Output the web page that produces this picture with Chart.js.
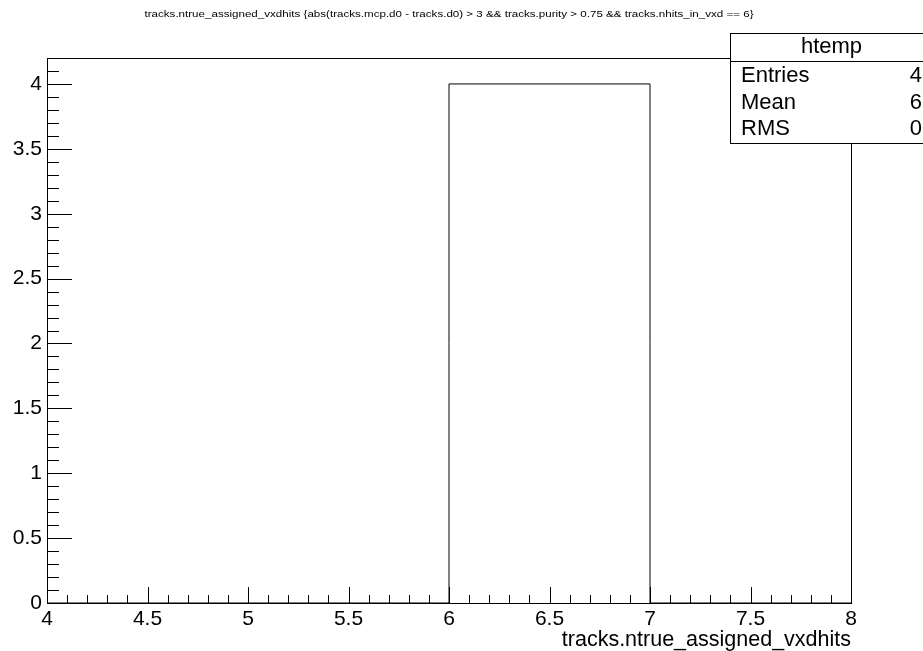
<!DOCTYPE html>
<html>
<head>
<meta charset="utf-8">
<script src="https://cdn.jsdelivr.net/npm/chart.js@4"></script>
<style>
  html, body { margin: 0; padding: 0; background: #fff; }
  #wrap { width: 923px; height: 651px; }
</style>
</head>
<body>
<div id="wrap"><canvas id="histChart" width="923" height="651"></canvas></div>
<script>
// histogram data (htemp)
var binEdges = [4, 5, 6, 7, 8];
var binCounts = [0, 0, 4, 0];
var xTickValues = [4, 4.5, 5, 5.5, 6, 6.5, 7, 7.5, 8];
var yTickValues = [0, 0.5, 1, 1.5, 2, 2.5, 3, 3.5, 4];
var statNames = ['Entries', 'Mean', 'RMS'];
var statValues = ['4', '6', '0'];
var histName = 'htemp';
var plotTitle = 'tracks.ntrue_assigned_vxdhits {abs(tracks.mcp.d0 - tracks.d0) > 3 && tracks.purity > 0.75 && tracks.nhits_in_vxd == 6}';
var xTitle = 'tracks.ntrue_assigned_vxdhits';

var FONT = '"Liberation Sans", Arial, sans-serif';

var points = binEdges.map(function (e, i) {
    return { x: e, y: i < binCounts.length ? binCounts[i] : 0 };
});

// frame, inward ticks, title and stats box (ROOT style)
var rootStyle = {
    id: 'rootStyle',
    afterDraw: function (chart) {
        var c = chart.ctx;
        var a = chart.chartArea;
        var xs = chart.scales.x;
        var ys = chart.scales.y;
        c.save();
        c.strokeStyle = '#000';
        c.lineWidth = 1;
        c.strokeRect(Math.round(a.left) + 0.5, Math.round(a.top) + 0.5,
            Math.round(a.right - a.left), Math.round(a.bottom - a.top));

        c.beginPath();
        var v, px, len;
        for (var i = 0; i <= 40; i++) {
            v = 4 + i * 0.1;
            px = Math.round(xs.getPixelForValue(v)) + 0.5;
            len = (i % 5 === 0) ? 16 : 8;
            c.moveTo(px, a.bottom);
            c.lineTo(px, a.bottom - len);
        }
        for (var j = 0; j <= 41; j++) {
            v = j * 0.1;
            px = Math.round(ys.getPixelForValue(v)) + 0.5;
            if (px < a.top + 2) continue;
            len = (j % 5 === 0) ? 25 : 12;
            c.moveTo(a.left, px);
            c.lineTo(a.left + len, px);
        }
        c.stroke();

        // title, squeezed to the reference width
        c.fillStyle = '#000';
        c.font = '9.5px ' + FONT;
        c.textAlign = 'center';
        c.textBaseline = 'middle';
        var tw = c.measureText(plotTitle).width;
        c.save();
        c.translate(449, 14);
        c.scale(609 / tw, 1);
        c.fillText(plotTitle, 0, 0);
        c.restore();

        // x axis title
        c.font = '21.5px ' + FONT;
        c.textAlign = 'right';
        c.textBaseline = 'alphabetic';
        c.fillText(xTitle, a.right, 646);

        // stats box (runs past the right edge, as in the reference)
        var bx = 730.5, by = 33.5, bw = 202;
        var sepY = 61.5, bottomY = 143.5;
        c.fillStyle = '#fff';
        c.fillRect(bx, by, bw, bottomY - by);
        c.strokeRect(bx, by, bw, bottomY - by);
        c.beginPath();
        c.moveTo(bx, sepY);
        c.lineTo(bx + bw, sepY);
        c.stroke();
        c.fillStyle = '#000';
        c.font = '22px ' + FONT;
        c.textBaseline = 'middle';
        c.textAlign = 'center';
        c.fillText(histName, bx + bw / 2, 47);
        var rowY = [76, 103, 129];
        for (var k = 0; k < statNames.length; k++) {
            c.textAlign = 'left';
            c.fillText(statNames[k], 741, rowY[k]);
            c.textAlign = 'right';
            c.fillText(statValues[k], 922, rowY[k]);
        }
        c.restore();
    }
};

var ctx = document.getElementById('histChart').getContext('2d');
var histChart = new Chart(ctx, {
    type: 'line',
    data: {
        datasets: [{
            label: histName,
            data: points,
            stepped: 'before',
            borderColor: '#000',
            borderWidth: 1,
            pointRadius: 0,
            fill: false
        }]
    },
    options: {
        responsive: false,
        animation: false,
        layout: { padding: { left: 0, top: 58, right: 72, bottom: 0 } },
        plugins: {
            legend: { display: false },
            tooltip: { enabled: false }
        },
        scales: {
            x: {
                type: 'linear',
                min: 4,
                max: 8,
                afterFit: function (s) { s.height = 48; },
                afterBuildTicks: function (s) {
                    s.ticks = xTickValues.map(function (v) { return { value: v }; });
                },
                grid: { display: false, drawTicks: false },
                border: { display: false },
                ticks: {
                    color: '#000',
                    padding: 4,
                    maxRotation: 0,
                    autoSkip: false,
                    font: { family: FONT, size: 21 },
                    callback: function (v) { return String(v); }
                }
            },
            y: {
                type: 'linear',
                min: 0,
                max: 4.2,
                afterFit: function (s) { s.width = 47; },
                afterBuildTicks: function (s) {
                    s.ticks = yTickValues.map(function (v) { return { value: v }; });
                },
                grid: { display: false, drawTicks: false },
                border: { display: false },
                ticks: {
                    color: '#000',
                    padding: 5,
                    autoSkip: false,
                    font: { family: FONT, size: 21 },
                    callback: function (v) { return String(v); }
                }
            }
        }
    },
    plugins: [rootStyle]
});
</script>
</body>
</html>
